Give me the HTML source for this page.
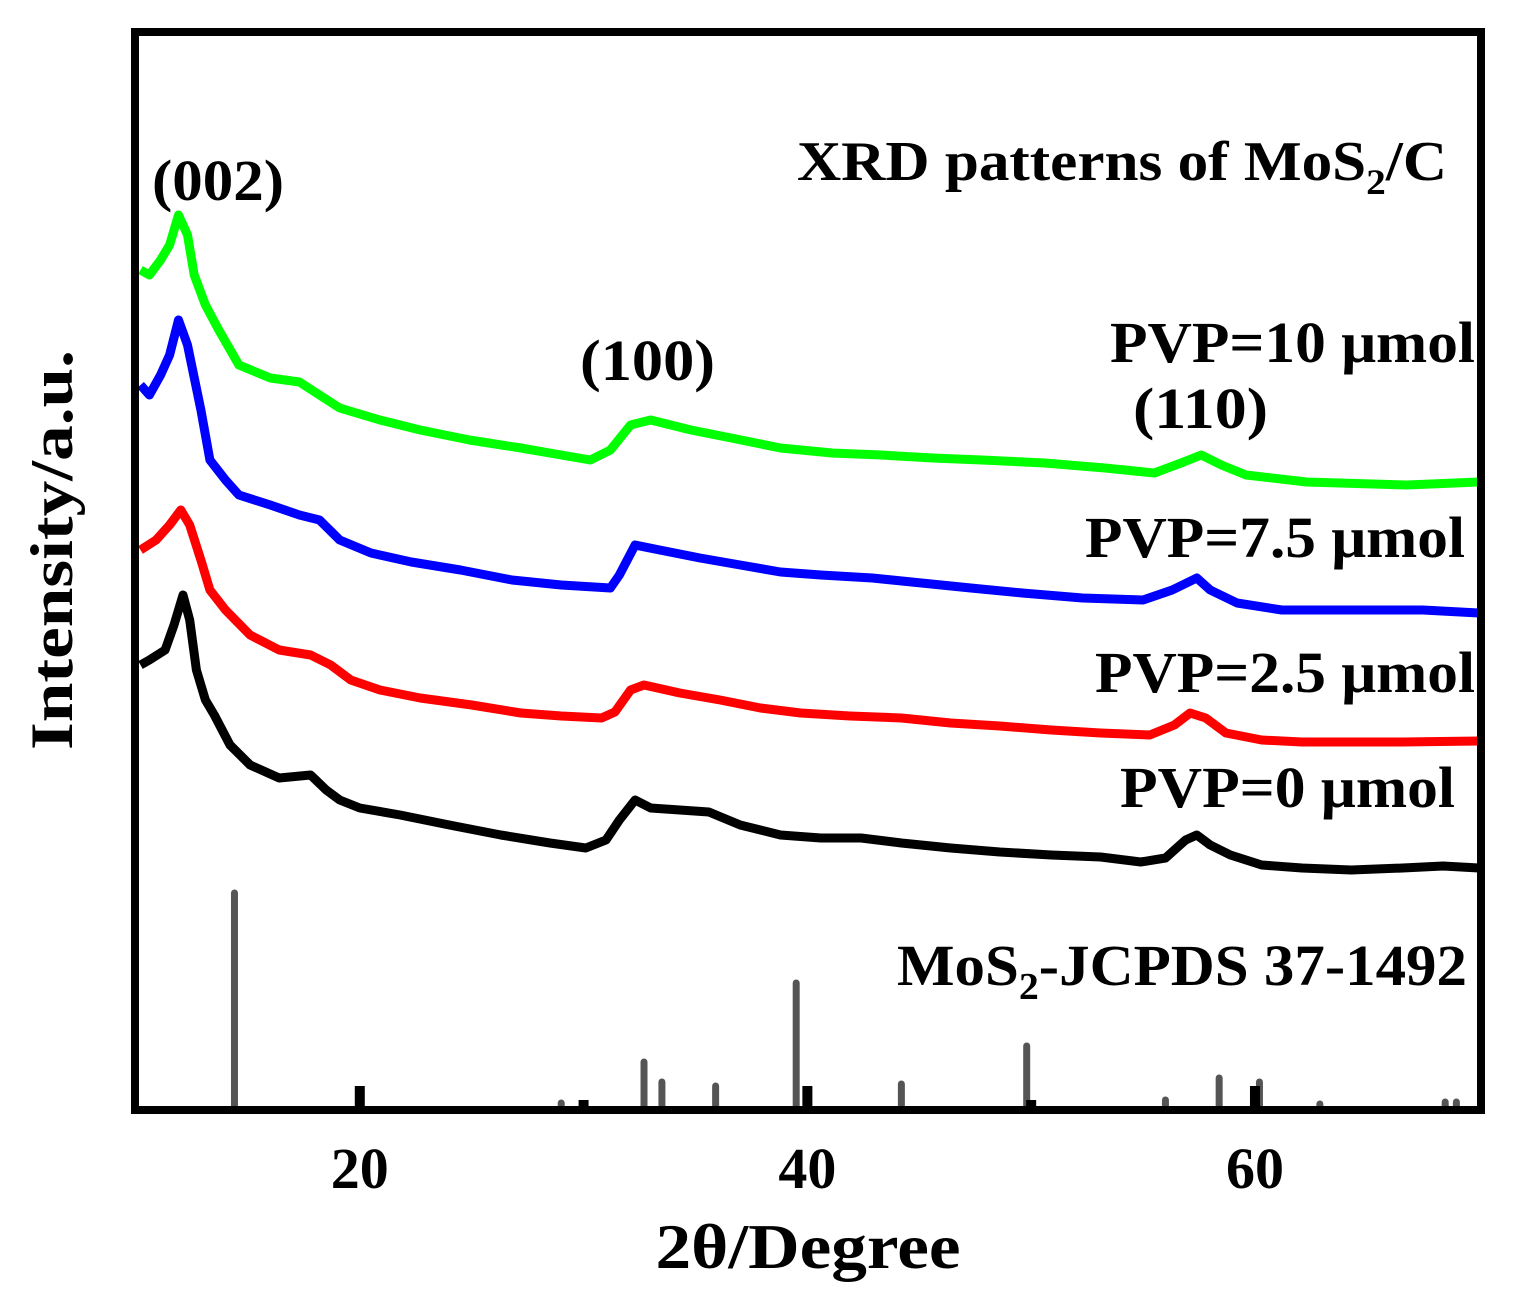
<!DOCTYPE html>
<html><head><meta charset="utf-8"><style>
html,body{margin:0;padding:0;background:#fff;}
svg{display:block;font-family:"Liberation Serif",serif;font-weight:bold;}
</style></head><body>
<svg id="chart" width="1514" height="1304" viewBox="0 0 1514 1304">
<rect x="0" y="0" width="1514" height="1304" fill="#fff"/>
<g id="sticks"></g>
<g id="curves"></g>
<g id="ticks"></g>
<rect x="135" y="32" width="1346" height="1078" fill="none" stroke="#000" stroke-width="8"/>
<text x="797" y="180" font-size="56" textLength="650" lengthAdjust="spacingAndGlyphs">XRD patterns of MoS<tspan font-size="36" dy="14">2</tspan><tspan dy="-14">/C</tspan></text>
<text x="152" y="200" font-size="58" textLength="132" lengthAdjust="spacingAndGlyphs">(002)</text>
<text x="580" y="380" font-size="58" textLength="135" lengthAdjust="spacingAndGlyphs">(100)</text>
<text x="1133" y="428" font-size="58" textLength="135" lengthAdjust="spacingAndGlyphs">(110)</text>
<text x="1110" y="362" font-size="58" textLength="365" lengthAdjust="spacingAndGlyphs">PVP=10 μmol</text>
<text x="1085" y="557" font-size="58" textLength="380" lengthAdjust="spacingAndGlyphs">PVP=7.5 μmol</text>
<text x="1095" y="692" font-size="58" textLength="380" lengthAdjust="spacingAndGlyphs">PVP=2.5 μmol</text>
<text x="1120" y="807" font-size="58" textLength="335" lengthAdjust="spacingAndGlyphs">PVP=0 μmol</text>
<text x="897" y="985" font-size="58" textLength="570" lengthAdjust="spacingAndGlyphs">MoS<tspan font-size="38" dy="14">2</tspan><tspan dy="-14">-JCPDS 37-1492</tspan></text>
<g id="ticklabels"></g>
<text x="808" y="1268" font-size="64" text-anchor="middle" textLength="305" lengthAdjust="spacingAndGlyphs">2θ/Degree</text>
<text transform="translate(72,550) rotate(-90)" font-size="60" text-anchor="middle" textLength="400" lengthAdjust="spacingAndGlyphs">Intensity/a.u.</text>
</svg>
<script>
// data: angle (deg) vs intensity (arbitrary units, height above baseline)
const xMin = 10, xMax = 70.1;
const stickAngles = [14.4, 29.0, 32.7, 33.5, 35.9, 39.5, 44.2, 49.8, 56.0, 58.4, 60.2, 62.9, 68.5, 69.0];
const stickHeights = [215, 5, 46, 26, 22, 125, 24, 62, 8, 30, 26, 4, 6, 6];
const blackAngles = [10.2,10.6,11.3,11.7,12.1,12.4,12.7,13.1,13.5,14.2,15.1,16.4,17.8,18.5,19.1,20.0,21.8,24.0,26.3,28.5,30.1,31.0,31.6,32.3,33.0,34.3,35.6,37.0,38.8,40.6,42.4,44.2,46.4,48.6,50.9,53.1,54.9,56.0,56.9,57.4,58.0,58.9,60.3,62.1,64.3,66.6,68.4,70.0];
const blackValues = [443,448,458,483,513,488,438,408,393,363,343,330,333,318,308,300,293,283,273,265,260,268,288,308,300,298,296,283,273,270,270,265,260,256,253,251,246,250,268,273,263,253,243,240,238,240,242,240];
const redAngles = [10.2,10.9,11.5,12.0,12.4,12.9,13.3,14.0,15.1,16.4,17.8,18.7,19.6,20.9,22.7,25.0,27.2,29.0,30.8,31.4,32.1,32.7,34.3,36.1,37.9,39.7,41.9,44.2,46.4,48.6,50.9,53.1,55.3,56.4,57.1,57.8,58.7,60.3,62.1,64.3,66.6,70.0];
const redValues = [558,568,583,598,583,548,518,498,473,458,453,443,428,418,410,403,395,392,390,396,418,423,415,408,400,395,392,390,385,382,378,375,373,383,395,390,375,368,366,366,366,367];
const blueAngles = [10.2,10.6,11.1,11.5,11.9,12.3,12.9,13.3,14.0,14.6,16.0,17.3,18.2,19.1,20.5,22.3,24.5,26.8,29.0,31.2,31.6,32.3,33.4,35.2,37.0,38.8,40.6,42.9,45.1,47.3,49.6,52.3,55.0,56.3,57.4,58.0,59.2,61.2,64.3,67.5,70.0];
const blueValues = [723,713,733,753,788,763,698,648,628,613,603,593,588,568,555,546,538,528,523,520,533,563,558,550,543,536,533,530,525,520,515,510,508,518,530,518,505,498,498,498,495];
const greenAngles = [10.2,10.6,11.1,11.5,11.9,12.3,12.6,13.1,13.7,14.6,16.0,17.3,18.2,19.1,20.9,22.7,24.9,27.2,29.0,30.3,31.2,32.1,33.0,34.8,36.6,38.8,41.1,43.3,45.6,47.8,50.6,53.3,55.5,56.7,57.6,58.5,59.6,62.3,66.8,70.0];
const greenValues = [838,833,848,863,893,873,833,803,778,743,730,726,713,700,688,678,668,660,653,648,658,683,688,678,670,660,655,653,650,648,645,640,635,645,653,643,633,626,623,626];
const tickValues = [20, 30, 40, 50, 60];
const tickMajor = [true, false, true, false, true];
const tickLabels = ["20", "40", "60"];
const tickLabelValues = [20, 40, 60];

const NS = "http://www.w3.org/2000/svg";
const plotL = 136, plotR = 1481, baseY = 1108;
function xScale(v){ return plotL + (v - xMin) / (xMax - xMin) * (plotR - plotL); }
function yScale(v){ return baseY - v; }

const sticks = document.getElementById('sticks');
stickAngles.forEach((a, i) => {
  const l = document.createElementNS(NS, 'line');
  l.setAttribute('x1', xScale(a)); l.setAttribute('x2', xScale(a));
  l.setAttribute('y1', yScale(0)); l.setAttribute('y2', yScale(stickHeights[i]));
  l.setAttribute('stroke', '#555'); l.setAttribute('stroke-width', '7'); l.setAttribute('stroke-linecap', 'round');
  
  
  sticks.appendChild(l);
});

const curves = document.getElementById('curves');
function drawCurve(xs, ys, color, name){
  const p = document.createElementNS(NS, 'polyline');
  p.setAttribute('points', xs.map((a, i) => xScale(a).toFixed(1) + ',' + yScale(ys[i]).toFixed(1)).join(' '));
  p.setAttribute('fill', 'none'); p.setAttribute('stroke', color); p.setAttribute('stroke-width', '9');
  p.setAttribute('stroke-linejoin', 'round');
  
  
  curves.appendChild(p);
}
drawCurve(blackAngles, blackValues, '#000', 'curve-pvp-0');
drawCurve(redAngles, redValues, '#ff0000', 'curve-pvp-2-5');
drawCurve(blueAngles, blueValues, '#0000ff', 'curve-pvp-7-5');
drawCurve(greenAngles, greenValues, '#00ff00', 'curve-pvp-10');

const ticks = document.getElementById('ticks');
tickValues.forEach((v, i) => {
  const r = document.createElementNS(NS, 'rect');
  const h = tickMajor[i] ? 22 : 8;
  r.setAttribute('x', xScale(v) - 5); r.setAttribute('width', 10);
  r.setAttribute('y', baseY - h); r.setAttribute('height', h);
  r.setAttribute('fill', '#000');
  
  
  ticks.appendChild(r);
});
const tl = document.getElementById('ticklabels');
tickLabelValues.forEach((v, i) => {
  const t = document.createElementNS(NS, 'text');
  t.setAttribute('x', xScale(v)); t.setAttribute('y', 1188);
  t.setAttribute('font-size', '58'); t.setAttribute('text-anchor', 'middle');
  t.textContent = tickLabels[i];
  
  
  tl.appendChild(t);
});
</script>
</body></html>
